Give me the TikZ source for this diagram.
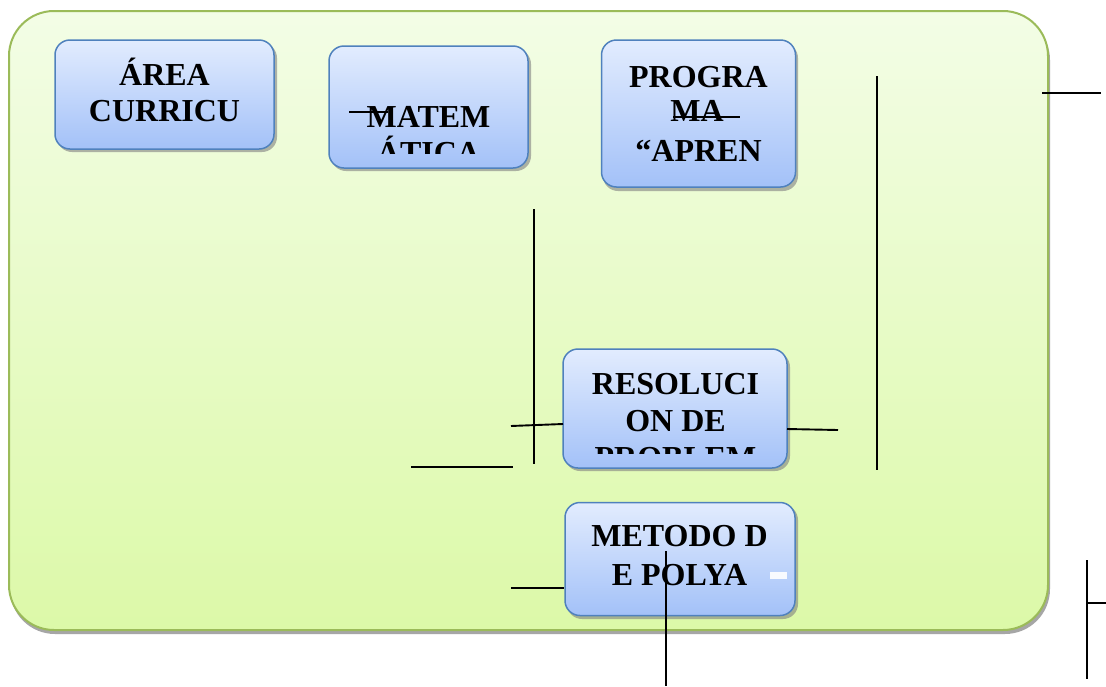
\documentclass[tikz,border=0pt]{standalone}
\usepackage{fontspec}
\setmainfont{Liberation Serif}
\definecolor{bgtop}{HTML}{F3FDE6}
\definecolor{bgbot}{HTML}{DCF9A8}
\definecolor{bgborder}{HTML}{9BBB59}
\definecolor{boxtop}{HTML}{E2ECFE}
\definecolor{boxbot}{HTML}{A3C1F8}
\definecolor{boxborder}{HTML}{4F81BD}
\begin{document}
\begin{tikzpicture}[x=1pt,y=-1pt,
  panel/.style={draw=bgborder, line width=2pt, rounded corners=45pt, top color=bgtop, bottom color=bgbot},
  box/.style={draw=boxborder, line width=1.5pt, rounded corners=15pt, top color=boxtop, bottom color=boxbot, inner sep=0pt},
  boxshadow/.style={fill=black!50, opacity=0.6, rounded corners=15pt},
  txt/.style={font=\fontsize{32}{36}\selectfont\bfseries, inner sep=0pt, anchor=base, text=black},
  conn/.style={draw=black, line width=1.9pt}]
\useasboundingbox (0,0) rectangle (1106,686);
\fill[white] (0,0) rectangle (1106,686);
% background panel
\fill[black!35, rounded corners=45pt] (10,15) rectangle (1050,634);
\path[panel] (9,11) rectangle (1048,630);
% shadows
\fill[boxshadow] (57,43) rectangle (277,152);
\fill[boxshadow] (331,49) rectangle (531,171);
\fill[boxshadow] (603,43) rectangle (798,191);
\fill[boxshadow] (565,352) rectangle (790,471);
\fill[boxshadow] (567,505) rectangle (798,619);
% boxes
\node[box, minimum width=219pt, minimum height=109pt] (area) at (164.5,94.5) {};
\node[box, minimum width=199pt, minimum height=122pt] (mate) at (428.5,107) {};
\node[box, minimum width=194pt, minimum height=147pt] (prog) at (698.5,113.5) {};
\node[box, minimum width=224pt, minimum height=119pt] (reso) at (675,408.5) {};
\node[box, minimum width=230pt, minimum height=113pt] (meto) at (680,559) {};
% texts
\node[txt] (area1) at (164.5,85) {ÁREA};
\node[txt] (area2) at (164.5,121) {CURRICU};
\begin{scope}
  \clip (329,46) rectangle (528,153);
  \node[txt] (mate1) at (428.5,127) {MATEM};
  \node[txt] (mate2) at (428.5,163) {ÁTICA};
\end{scope}
\node[txt] (prog1) at (698.5,87) {PROGRA};
\node[txt] (prog2) at (697,121) {MA};
\node[txt] (prog3) at (698.5,161) {“APREN};
\begin{scope}
  \clip (563,349) rectangle (787,453);
  \node[txt] (reso1) at (675.5,394) {RESOLUCI};
  \node[txt] (reso2) at (675.5,431) {ON DE};
  \node[txt] (reso3) at (675.5,468) {PROBLEM};
\end{scope}
\node[txt] (meto1) at (679.5,546) {METODO D};
\node[txt] (meto2) at (679.5,585) {E POLYA};
\fill[white, opacity=0.9] (770,572) rectangle (787,579);
% strike marks
\coordinate (d1) at (349,112); \coordinate (d2) at (388,112);
\draw[conn, line width=1.6pt] (d1) -- (d2);
\coordinate (s1) at (673,117); \coordinate (s2) at (740,117);
\draw[conn, line width=1.6pt] (s1) -- (s2);
% connectors
\coordinate (a1) at (534,209); \coordinate (a2) at (534,464);
\draw[conn] (a1) -- (a2);
\coordinate (b1) at (511,426); \coordinate (b2) at (563,424);
\draw[conn] (b1) -- (b2);
\coordinate (c1) at (411,467); \coordinate (c2) at (513,467);
\draw[conn] (c1) -- (c2);
\coordinate (e1) at (787,429); \coordinate (e2) at (838,430);
\draw[conn] (e1) -- (e2);
\coordinate (f1) at (877,76); \coordinate (f2) at (877,470);
\draw[conn] (f1) -- (f2);
\coordinate (g1) at (1042,93); \coordinate (g2) at (1101,93);
\draw[conn] (g1) -- (g2);
\coordinate (h1) at (1087,560); \coordinate (h2) at (1087,679);
\draw[conn] (h1) -- (h2);
\coordinate (h3) at (1087,603); \coordinate (h4) at (1106,603);
\draw[conn] (h3) -- (h4);
\coordinate (k1) at (666,551); \coordinate (k2) at (666,686);
\draw[conn] (k1) -- (k2);
\coordinate (m1) at (511,588); \coordinate (m2) at (meto.west |- 0,588);
\draw[conn] (m1) -- (m2);
\end{tikzpicture}
\end{document}
